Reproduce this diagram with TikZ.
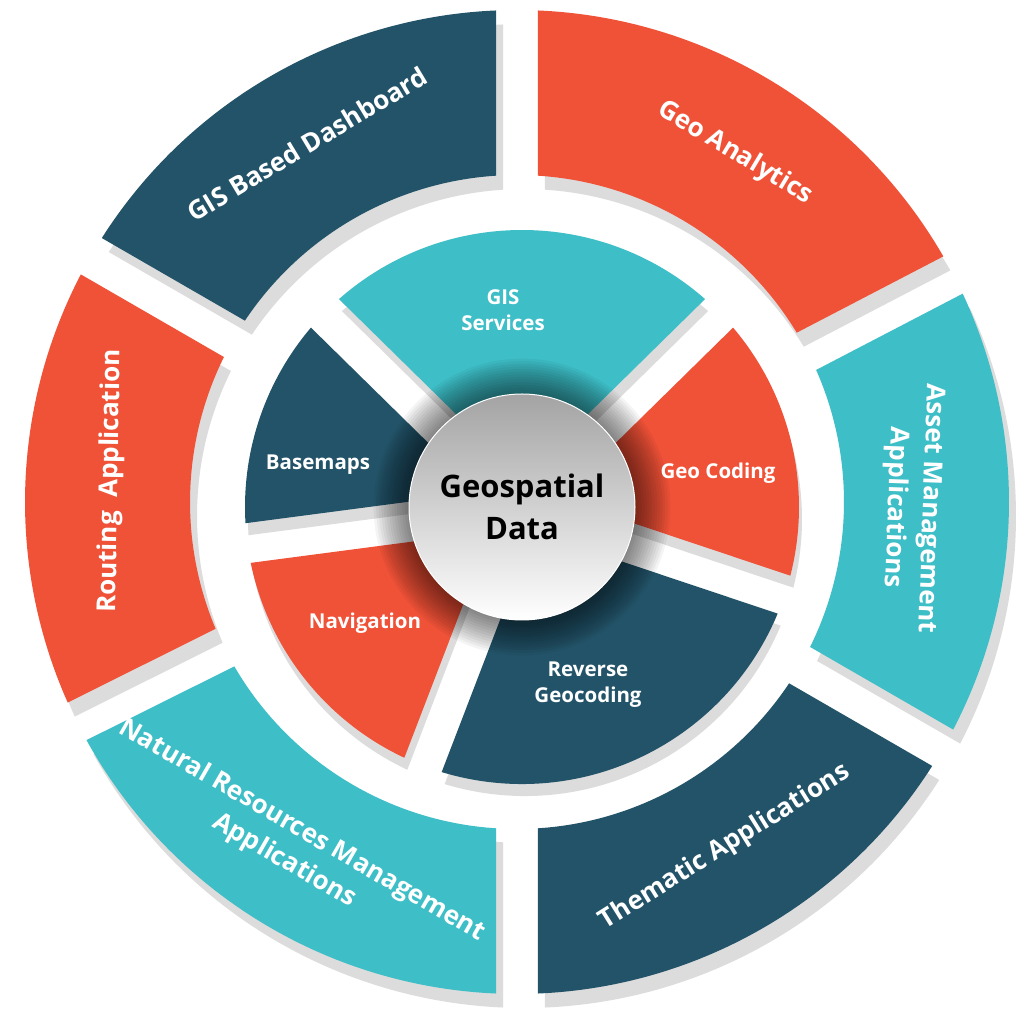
\documentclass[tikz,border=0pt]{standalone}
\usepackage{fontspec}
\setmainfont{Open Sans}
\definecolor{cdark}{HTML}{235368}
\definecolor{corange}{HTML}{F05238}
\definecolor{ccyan}{HTML}{3EBEC7}
\definecolor{cshadow}{HTML}{DCDCDC}
% #1 style, #2 cx, #3 cy, #4 th1, #5 th2, #6 Rin, #7 Rout, #8 half gap
\newcommand{\ringseg}[8]{%
  \pgfmathsetmacro\rsA{#4+asin(#8/#7)}%
  \pgfmathsetmacro\rsB{#5-asin(#8/#7)}%
  \pgfmathsetmacro\rsC{#5-asin(#8/#6)}%
  \pgfmathsetmacro\rsD{#4+asin(#8/#6)}%
  \fill[#1,shift={(#2,#3)}] (\rsA:#7pt) arc[start angle=\rsA,end angle=\rsB,radius=#7pt]
    -- (\rsC:#6pt) arc[start angle=\rsC,end angle=\rsD,radius=#6pt] -- cycle;}
\begin{document}
\begin{tikzpicture}[x=1pt,y=1pt,
  outerlbl/.style={text=white,font=\fontsize{26}{35}\selectfont\bfseries,align=center},
  innerlbl/.style={text=white,font=\fontsize{20.5}{26}\selectfont\bfseries,align=center},
  hublbl/.style={circle,minimum size=226pt,inner sep=0pt,text=black,
    font=\fontsize{31}{42}\selectfont\bfseries,align=center,
    top color=black!36,middle color=black!9,bottom color=white,draw=white,line width=1pt}]
\useasboundingbox (0,0) rectangle (1017,1014);
\fill[white] (0,0) rectangle (1017,1014);
% outer ring shadows
\foreach \a/\b in {27.5/90,90/150,150/206.5,206.5/270,270/330,330/387.5}
  {\ringseg{cshadow}{524}{498}{\a}{\b}{327}{492}{21}}
% outer ring segments
\foreach \a/\b/\c in {27.5/90/corange,90/150/cdark,150/206.5/corange,206.5/270/ccyan,270/330/cdark,330/387.5/ccyan}
  {\ringseg{\c}{517}{512}{\a}{\b}{327}{492}{21}}
% inner ring shadows
\foreach \a/\b in {44.5/135.5,135.5/187.5,187.5/249,249/341.5,341.5/404.5}
  {\ringseg{cshadow}{525}{495}{\a}{\b}{60}{277}{20}}
% inner ring segments
\foreach \a/\b/\c in {44.5/135.5/ccyan,135.5/187.5/cdark,187.5/249/corange,249/341.5/cdark,341.5/404.5/corange}
  {\ringseg{\c}{522}{507}{\a}{\b}{60}{277}{20}}
% glow around the hub
\foreach \k [evaluate=\k as \rr using 112+2.6*\k] in {1,...,14}
  {\fill[black,opacity=0.045] (522,507) circle[radius=\rr pt];}
% hub
\node[hublbl] (hub) at (522,507) {Geospatial\\Data};
% outer labels
\node[outerlbl,rotate=31] (dash) at (307,870) {GIS Based Dashboard};
\node[outerlbl,rotate=-31] (geoan) at (735,861) {Geo Analytics};
\node[outerlbl,rotate=-92] (asset) at (912,506) {Asset Management\\Applications};
\node[outerlbl,rotate=32] (thematic) at (725,167) {Thematic Applications};
\node[outerlbl,rotate=-30] (natural) at (293,168) {Natural Resources Management\\Applications};
\node[outerlbl,rotate=89] (routing) at (111,533) {Routing\ \ Application};
% inner labels
\node[innerlbl] (gis) at (503,704) {GIS\\Services};
\node[innerlbl] (geocod) at (718,541) {Geo Coding};
\node[innerlbl] (reverse) at (588,329) {Reverse\\Geocoding};
\node[innerlbl] (nav) at (365,391) {Navigation};
\node[innerlbl] (base) at (318,549) {Basemaps};
\end{tikzpicture}
\end{document}
